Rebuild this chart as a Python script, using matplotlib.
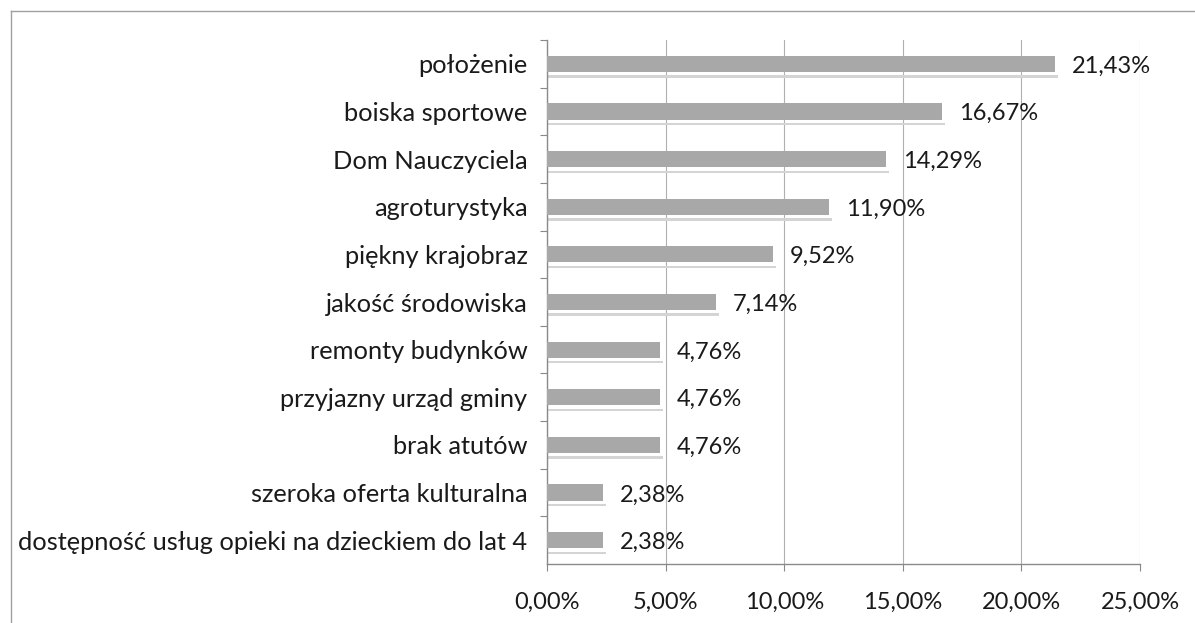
import matplotlib
matplotlib.use("Agg")
import matplotlib.pyplot as plt
from matplotlib.lines import Line2D
from matplotlib.ticker import MultipleLocator, FuncFormatter

plt.rcParams['font.family'] = ['Lato', 'DejaVu Sans']

categories = [
    "położenie",
    "boiska sportowe",
    "Dom Nauczyciela",
    "agroturystyka",
    "piękny krajobraz",
    "jakość środowiska",
    "remonty budynków",
    "przyjazny urząd gminy",
    "brak atutów",
    "szeroka oferta kulturalna",
    "dostępność usług opieki na dzieckiem do lat 4",
]
values = [21.43, 16.67, 14.29, 11.90, 9.52, 7.14, 4.76, 4.76, 4.76, 2.38, 2.38]

fig = plt.figure(figsize=(11.95, 6.23), dpi=100)
ax = fig.add_axes([547 / 1195, 59 / 623, 593 / 1195, 524 / 623])

pos = list(range(len(categories)))[::-1]

# light shadow line under each bar, then the bar itself
ax.barh([p - 0.265 for p in pos], [v + 0.12 for v in values], height=0.05,
        color="#d4d4d4", zorder=2)
ax.barh(pos, values, height=0.34, color="#a8a8a8", zorder=3)

for p, v in zip(pos, values):
    ax.text(v + 0.7, p - 0.05, f"{v:.2f}%".replace(".", ","), va="center",
            ha="left", fontsize=17, color="#1a1a1a", zorder=4)

ax.set_xlim(0, 25)
ax.set_ylim(-0.5, len(categories) - 0.5)
ax.xaxis.set_major_locator(MultipleLocator(5))
ax.xaxis.set_major_formatter(FuncFormatter(lambda x, _: f"{x:.2f}%".replace(".", ",")))
ax.set_yticks(pos)
ax.set_yticklabels(categories)
ax.set_yticks([p + 0.5 for p in pos], minor=True)

ax.tick_params(axis="y", which="major", length=0, pad=14, labelsize=18.3,
               labelcolor="#1a1a1a")
ax.tick_params(axis="y", which="minor", length=5, color="#888888", width=0.8)
ax.tick_params(axis="x", length=5, color="#888888", width=0.8, pad=15,
               labelsize=17, labelcolor="#1a1a1a")

ax.grid(axis="x", color="#b0b0b0", linewidth=0.8, zorder=0)
for side in ["top", "right"]:
    ax.spines[side].set_visible(False)
for side in ["left", "bottom"]:
    ax.spines[side].set_color("#8a8a8a")
    ax.spines[side].set_linewidth(1.0)

# outer chart frame
fig.add_artist(Line2D([11 / 1195, 11 / 1195], [0, 1 - 11 / 623],
                      transform=fig.transFigure, color="#a0a0a0", lw=1.0))
fig.add_artist(Line2D([11 / 1195, 1], [1 - 11 / 623, 1 - 11 / 623],
                      transform=fig.transFigure, color="#a0a0a0", lw=1.0))

fig.savefig("out.png", dpi=100)
